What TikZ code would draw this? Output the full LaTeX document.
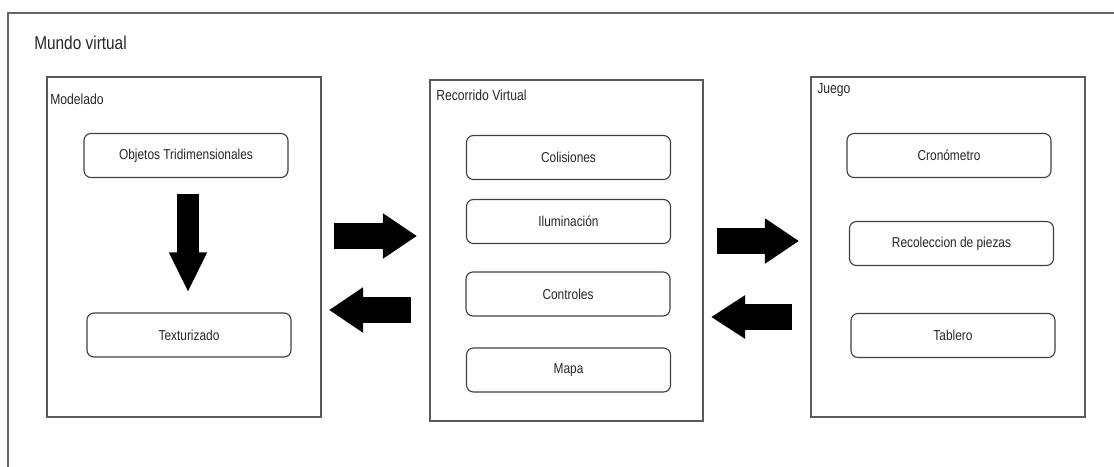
\documentclass[tikz,border=0pt]{standalone}
\usepackage{fontspec}
\setmainfont{Liberation Sans}[FakeStretch=0.83]
\usetikzlibrary{arrows.meta,positioning}

\begin{document}
\begin{tikzpicture}[x=0.025cm, y=-0.025cm,
  frame/.style={draw=black!60, line width=0.9pt},
  grp/.style={draw=black!65, line width=0.9pt, minimum width=6.85cm, minimum height=8.5cm, inner sep=0pt},
  item/.style={draw=black!75, line width=0.8pt, rounded corners=5pt, minimum width=5.1cm,
    minimum height=1.1cm, inner sep=0pt, font=\fontsize{10.2}{12}\selectfont, text=black!85},
  lbl/.style={anchor=west, inner sep=0pt, font=\fontsize{10.4}{12}\selectfont, text=black!85},
  blk/.style={line width=0.65cm, -{Triangle[length=0.85cm,width=1.075cm]}},
  blkv/.style={line width=0.525cm, -{Triangle[length=1.0cm,width=0.875cm]}}
]
  \useasboundingbox (0,0) rectangle (1114,467);
  \clip (0,0) rectangle (1114,467);
  \draw[frame] (8,13) rectangle (1130,490);
  \node[anchor=west, inner sep=0pt, font=\fontsize{13.2}{15}\selectfont, text=black!85] (tit) at (34,43) {Mundo virtual};

  \node[grp] (mod) at (184,247) {};
  \node[grp, minimum width=6.825cm, minimum height=8.525cm] (rec) at (566.5,250.5) {};
  \node[grp] (jue) at (948,247) {};
  \node[lbl] (lmod) at (50,99) {Modelado};
  \node[lbl] (lrec) at (436,95) {Recorrido Virtual};
  \node[lbl] (ljue) at (817,90) {Juego};

  \node[item] (obj) at (186,155.5) {Objetos Tridimensionales};
  \node[item] (tex) at (189,335) {Texturizado};

  \node[item] (col) at (568.5,157.5) {Colisiones};
  \node[item] (ilu) at (568.5,221.5) {Iluminación};
  \node[item] (con) at (568,294) {Controles};
  \node[item] (map) at (568.5,370) {Mapa};

  \node[item] (cro) at (949,155.5) {Cronómetro};
  \node[item] (rcp) at (951.5,243.5) {Recoleccion de piezas};
  \node[item] (tab) at (953,335.5) {Tablero};

  \coordinate (r1a) at (334,236);
  \coordinate (r1b) at (417,236);
  \coordinate (l1a) at (411,310);
  \coordinate (l1b) at (329,310);
  \coordinate (r2a) at (717,241);
  \coordinate (r2b) at (799,241);
  \coordinate (l2a) at (792,317);
  \coordinate (l2b) at (711,317);

  \draw[blkv, shorten <=0.4cm, shorten >=0.5cm] ([xshift=0.05cm]obj.south) -- ([xshift=0.05cm]obj.south |- tex.north);
  \draw[blk] (r1a) -- (r1b);
  \draw[blk] (l1a) -- (l1b);
  \draw[blk, line width=0.625cm] (r2a) -- (r2b);
  \draw[blk, line width=0.625cm, -{Triangle[length=0.85cm,width=1.025cm]}] (l2a) -- (l2b);
\end{tikzpicture}
\end{document}
